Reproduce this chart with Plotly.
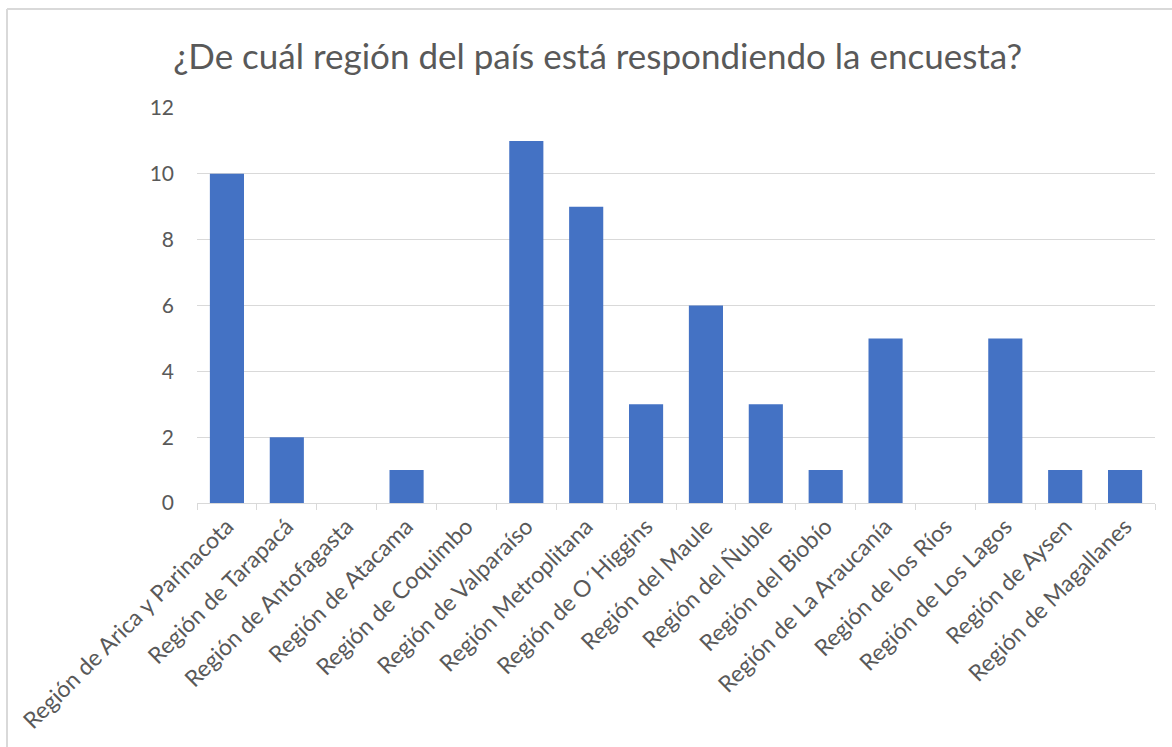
import plotly.graph_objects as go

# Datos del gráfico
regiones = [
    "Región de Arica y Parinacota", "Región de Tarapacá", "Región de Antofagasta",
    "Región de Atacama", "Región de Coquimbo", "Región de Valparaíso",
    "Región Metroplitana", "Región de O´Higgins", "Región del Maule",
    "Región del Ñuble", "Región del Biobío", "Región de La Araucanía",
    "Región de los Ríos", "Región de Los Lagos", "Región de Aysen",
    "Región de Magallanes",
]
respuestas = [10, 2, 0, 1, 0, 11, 9, 3, 6, 3, 1, 5, 0, 5, 1, 1]
y_ticks = [0, 2, 4, 6, 8, 10, 12]

W, H = 1172, 747
ml, mr, mt, mb = 197, 17, 108, 244
pw, ph = W - ml - mr, H - mt - mb

fig = go.Figure(go.Bar(
    x=regiones, y=respuestas,
    marker=dict(color="#4472C4", line=dict(width=0)),
))

border = dict(color="#D9D9D9", width=2)
fig.update_layout(
    width=W, height=H,
    margin=dict(l=ml, r=mr, t=mt, b=mb),
    paper_bgcolor="white", plot_bgcolor="white",
    font=dict(family="Lato", color="#595959"),
    title=dict(text="¿De cuál región del país está respondiendo la encuesta?",
               x=0.51, xanchor="center", y=0.924, yanchor="middle",
               font=dict(size=35, color="#595959")),
    bargap=0.43,
    showlegend=False,
    shapes=[
        # marco del gráfico (arriba e izquierda)
        dict(type="line", xref="paper", yref="paper",
             x0=(7 - ml) / pw, x1=(W - ml) / pw,
             y0=1 + (mt - 9) / ph, y1=1 + (mt - 9) / ph, line=border),
        dict(type="line", xref="paper", yref="paper",
             x0=(7 - ml) / pw, x1=(7 - ml) / pw,
             y0=1 + (mt - 9) / ph, y1=-mb / ph, line=border),
    ],
)
fig.update_xaxes(
    tickangle=-45, tickfont=dict(size=23, color="#595959"),
    showline=True, linecolor="#D9D9D9", linewidth=1,
    ticks="outside", tickson="boundaries", ticklen=6, tickcolor="#D9D9D9",
    showgrid=False,
)
fig.update_yaxes(
    range=[0, 12], tickvals=y_ticks, tickfont=dict(size=21, color="#595959"),
    showgrid=True, gridcolor="#D9D9D9", zeroline=False, showline=False,
    ticklabelstandoff=22,
)

fig.write_html("out.html", config={"displayModeBar": False},
               post_script="document.body.style.margin='0px';")
